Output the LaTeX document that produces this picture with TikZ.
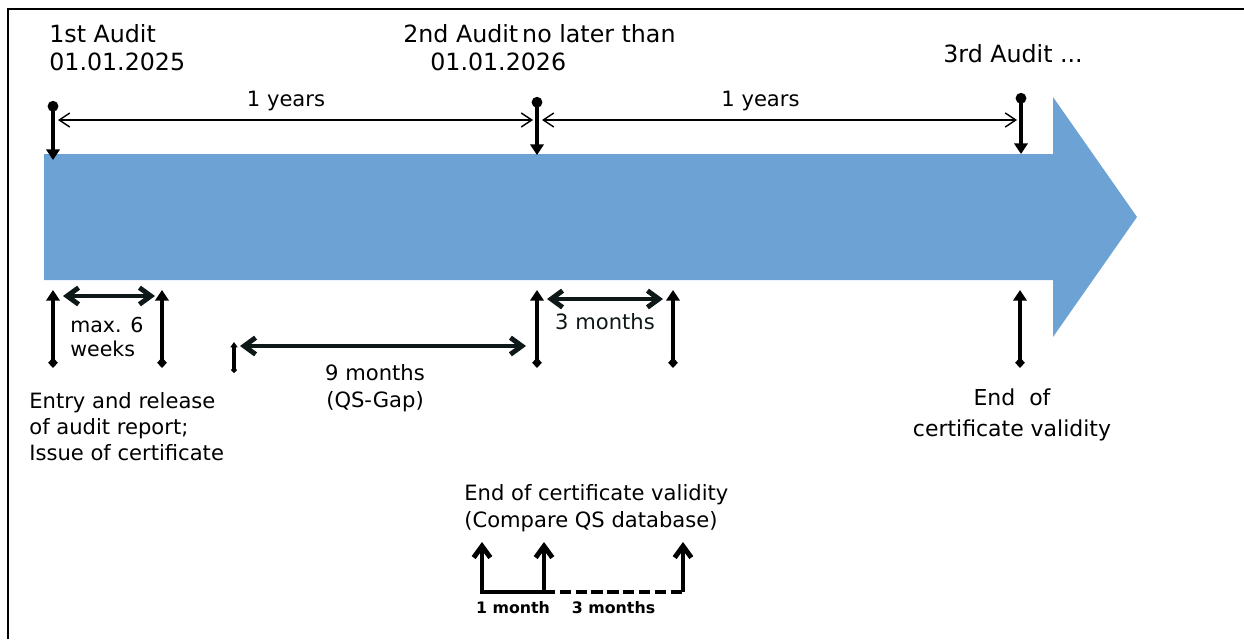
\documentclass[tikz,border=0pt]{standalone}
\usepackage{fontspec}
\setmainfont{DejaVu Sans}
\usetikzlibrary{arrows.meta}
\definecolor{bandblue}{RGB}{108,163,212}
\definecolor{gapink}{RGB}{14,24,24}
\newcommand\headfont{\fontsize{13.5}{15.9}\selectfont}
\newcommand\bodyfont{\fontsize{12}{14.7}\selectfont}

\begin{document}
\begin{tikzpicture}[x=0.02cm,y=-0.02cm,
  topmark/.style={line width=2.4pt,{Circle[length=6pt]}-{Triangle[length=6pt,width=7.5pt]}},
  botmark/.style={line width=2.4pt,{Turned Square[length=6pt,width=5.5pt]}-{Triangle[length=6pt,width=7.5pt]}},
  span/.style={line width=0.8pt,{Straight Barb[length=6pt,width=8pt]}-{Straight Barb[length=6pt,width=8pt]}},
  gap/.style={gapink,line width=2.8pt,{Straight Barb[length=6.5pt,width=9.5pt]}-{Straight Barb[length=6.5pt,width=9.5pt]}},
  bracket/.style={line width=2.8pt},
  lab/.style={inner sep=0pt,font=\bodyfont}]
\useasboundingbox (0,0) rectangle (1244,639);
\draw[line width=1.2pt] (8,639) -- (8,9) -- (1244,9);

\fill[bandblue] (44,154) -- (1053,154) -- (1053,97) -- (1137,217) -- (1053,337) -- (1053,280) -- (44,280) -- cycle;

\path (49,70) node[lab,anchor=base west,align=left,font=\headfont] (first) {1st Audit\\01.01.2025};
\path (403,42) node[lab,anchor=base west,font=\headfont] (second) {2nd Audit\,no later than};
\path (430,70) node[lab,anchor=base west,font=\headfont] (seconddate) {01.01.2026};
\path (943,62) node[lab,anchor=base west,font=\headfont] (third) {3rd Audit ...};

\path (53,101) coordinate (d1) (53,160) coordinate (t1);
\path (537,97) coordinate (d2) (537,155) coordinate (t2);
\path (1021,93) coordinate (d3) (1021,154) coordinate (t3);
\draw[topmark] (d1) -- (t1);
\draw[topmark] (d2) -- (t2);
\draw[topmark] (d3) -- (t3);

\path (58,120) coordinate (y1a) (533,120) coordinate (y1b);
\path (542,120) coordinate (y2a) (1017,120) coordinate (y2b);
\draw[span] (y1a) -- node[lab,pos=0.48,anchor=base,yshift=7.4pt] (y1) {1 years} (y1b);
\draw[span] (y2a) -- node[lab,pos=0.46,anchor=base,yshift=7.4pt] (y2) {1 years} (y2b);

\path (53,368) coordinate (e1) (53,290) coordinate (f1);
\path (162,368) coordinate (e2) (162,290) coordinate (f2);
\path (234,373) coordinate (e3) (234,342) coordinate (f3);
\path (537,368) coordinate (e4) (537,290) coordinate (f4);
\path (673,368) coordinate (e5) (673,290) coordinate (f5);
\path (1020,368) coordinate (e6) (1020,290) coordinate (f6);
\draw[botmark] (e1) -- (f1);
\draw[botmark] (e2) -- (f2);
\draw[line width=2.4pt,{Turned Square[length=3.5pt,width=3.5pt]}-{Triangle[length=3pt,width=4pt]}] (e3) -- (f3);
\draw[botmark] (e4) -- (f4);
\draw[botmark] (e5) -- (f5);
\draw[botmark] (e6) -- (f6);

\path (63,296) coordinate (w1) (155,296) coordinate (w2);
\path (240,346) coordinate (q1) (526,346) coordinate (q2);
\path (547,299) coordinate (r1) (663,299) coordinate (r2);
\draw[gap] (w1) -- (w2);
\draw[gap] (q1) -- (q2);
\draw[gap] (r1) -- node[lab,anchor=base,yshift=-17.5pt] (threem) {3 months} (r2);

\path (70,356) node[lab,anchor=base west,align=left,font={\fontsize{11.7}{13.6}\selectfont}] (weeks) {max. 6\\weeks};
\path (29,460) node[lab,anchor=base west,align=left] (entry) {Entry and release\\of audit report;\\Issue of certificate};
\path (375,407) node[lab,anchor=base,align=center,font={\fontsize{12}{15.3}\selectfont}] (qsgap) {9 months\\(QS-Gap)};
\path (1012,436) node[lab,anchor=base,align=center,font={\fontsize{12.5}{17.6}\selectfont}] (endval) {End\ \ of\\certificate validity};
\path (464,527) node[lab,anchor=base west,align=left,font={\fontsize{12}{15.3}\selectfont}] (compare) {End of certificate validity\\(Compare QS database)};

\path (482,542) coordinate (k1) (482,592) coordinate (b1);
\path (544,542) coordinate (k2) (544,592) coordinate (b2);
\path (683,542) coordinate (k3) (683,592) coordinate (b3);
\draw[bracket,{Straight Barb[length=6.5pt,width=9.5pt]}-{Straight Barb[length=6.5pt,width=9.5pt]}] (k1) -- (b1) -- node[lab,anchor=base,yshift=-12.5pt,font=\bfseries\fontsize{9}{11}\selectfont] (onem) {1 month} (b2) -- (k2);
\draw[bracket,dash pattern=on 6.5pt off 2.5pt] (b2) -- node[lab,anchor=base,yshift=-12.5pt,font=\bfseries\fontsize{9}{11}\selectfont] (threems) {3 months} (b3);
\draw[bracket,-{Straight Barb[length=6.5pt,width=9.5pt]}] (b3) -- (k3);
\end{tikzpicture}
\end{document}
